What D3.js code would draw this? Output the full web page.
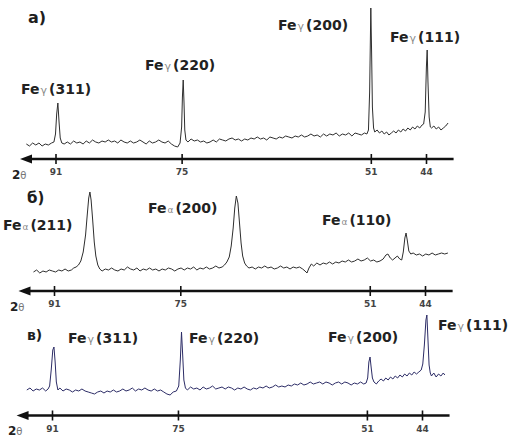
<!DOCTYPE html>
<html><head><meta charset="utf-8">
<script src="https://cdn.jsdelivr.net/npm/d3@7"></script>
<style>body{margin:0;background:#fff}svg{display:block}</style>
</head><body>
<svg id="chart" width="515" height="438"></svg>
<script>
// ---------- DATA ----------
const tickValues = [91, 75, 51, 44];
const tickLabels = ["91", "75", "51", "44"];
const axisExtent = [95.5, 40.5];           // 2θ span of the arrow axis
const panelLetters = ["а)", "б)", "в)"];

// [2θ, intensity (arb.)]
const scanA = [[94.7,8],[94.3,6],[93.9,9],[93.5,7],[93.1,9],[92.7,6],[92.3,8],[91.9,7],[91.5,9],[91.2,10],[91.0,18],[90.85,38],[90.7,49],[90.55,30],[90.4,14],[90.2,9],[89.9,8],[89.5,10],[89.1,8],[88.7,11],[88.3,9],[87.9,10],[87.5,8],[87.1,11],[86.7,9],[86.3,12],[85.9,10],[85.5,9],[85.1,11],[84.7,10],[84.3,12],[83.9,10],[83.5,11],[83.1,9],[82.7,12],[82.3,10],[81.9,9],[81.5,11],[81.1,9],[80.7,10],[80.3,12],[79.9,10],[79.5,8],[79.1,11],[78.7,9],[78.3,10],[77.9,12],[77.5,10],[77.1,9],[76.7,11],[76.3,8],[75.9,6],[75.5,5],[75.2,9],[75.0,25],[74.9,55],[74.8,72],[74.7,50],[74.6,22],[74.45,12],[74.2,10],[73.8,13],[73.4,11],[73.0,12],[72.6,10],[72.2,11],[71.8,9],[71.4,10],[71.0,12],[70.6,10],[70.2,13],[69.8,12],[69.4,11],[69.0,13],[68.6,14],[68.2,12],[67.8,13],[67.4,11],[67.0,13],[66.6,12],[66.2,14],[65.8,13],[65.4,15],[65.0,13],[64.6,14],[64.2,12],[63.8,15],[63.4,14],[63.0,13],[62.6,15],[62.2,14],[61.8,16],[61.4,15],[61.0,14],[60.6,16],[60.2,15],[59.8,17],[59.4,15],[59.0,16],[58.6,18],[58.2,16],[57.8,17],[57.4,15],[57.0,18],[56.6,16],[56.2,18],[55.8,17],[55.4,19],[55.0,16],[54.6,18],[54.2,17],[53.8,19],[53.4,16],[53.0,19],[52.6,18],[52.2,17],[51.8,19],[51.5,18],[51.3,22],[51.15,60],[51.0,144],[50.9,100],[50.8,45],[50.65,24],[50.5,20],[50.2,22],[49.9,19],[49.6,21],[49.3,18],[49.0,20],[48.7,17],[48.4,19],[48.1,21],[47.8,19],[47.5,22],[47.2,20],[46.9,23],[46.6,21],[46.3,24],[46.0,22],[45.7,25],[45.4,23],[45.1,26],[44.8,24],[44.5,27],[44.3,28],[44.1,40],[43.95,85],[43.85,102],[43.75,70],[43.6,35],[43.45,25],[43.3,24],[43.0,26],[42.7,23],[42.4,25],[42.1,22],[41.8,24],[41.5,26],[41.2,29]];

const scanB = [[93.6,8],[93.2,10],[92.8,7],[92.4,9],[92.0,8],[91.6,10],[91.2,9],[90.8,8],[90.4,10],[90.0,9],[89.6,11],[89.2,9],[88.8,10],[88.5,12],[88.2,13],[87.9,15],[87.6,19],[87.3,28],[87.0,45],[86.8,64],[86.6,82],[86.45,88],[86.3,80],[86.1,60],[85.9,38],[85.7,24],[85.45,15],[85.2,11],[84.9,9],[84.5,11],[84.1,10],[83.7,12],[83.3,10],[82.9,9],[82.5,11],[82.1,10],[81.7,13],[81.3,11],[80.9,10],[80.5,12],[80.1,9],[79.7,11],[79.3,10],[78.9,12],[78.5,10],[78.1,11],[77.7,9],[77.3,11],[76.9,10],[76.5,12],[76.1,11],[75.7,9],[75.3,11],[74.9,12],[74.5,10],[74.1,12],[73.7,11],[73.3,13],[72.9,10],[72.5,12],[72.1,11],[71.7,13],[71.3,11],[70.9,12],[70.5,14],[70.1,12],[69.7,13],[69.4,15],[69.1,18],[68.8,23],[68.55,34],[68.3,52],[68.1,72],[67.9,84],[67.7,77],[67.5,57],[67.3,37],[67.1,24],[66.85,17],[66.6,14],[66.3,12],[65.9,13],[65.5,11],[65.1,13],[64.7,12],[64.3,14],[63.9,12],[63.5,13],[63.1,11],[62.7,12],[62.3,14],[61.9,12],[61.5,13],[61.1,11],[60.7,13],[60.3,12],[59.9,13],[59.5,11],[59.2,9],[58.95,7],[58.7,12],[58.4,16],[58.1,14],[57.7,17],[57.3,15],[56.9,17],[56.5,16],[56.1,18],[55.7,16],[55.3,18],[54.9,17],[54.5,19],[54.1,18],[53.7,20],[53.3,18],[52.9,19],[52.5,21],[52.1,19],[51.7,20],[51.3,22],[50.9,19],[50.5,20],[50.1,18],[49.7,19],[49.3,21],[48.95,25],[48.7,26],[48.4,22],[48.1,20],[47.8,22],[47.5,24],[47.2,21],[46.95,20],[46.75,28],[46.55,42],[46.4,47],[46.25,40],[46.05,29],[45.8,26],[45.5,27],[45.1,25],[44.7,26],[44.3,24],[43.9,26],[43.5,25],[43.1,27],[42.7,25],[42.3,26],[41.9,27],[41.5,26],[41.1,27]];

const scanC = [[94.2,10],[93.8,12],[93.4,9],[93.0,11],[92.6,10],[92.2,12],[91.8,9],[91.5,11],[91.3,14],[91.1,30],[90.9,50],[90.75,53],[90.6,38],[90.45,18],[90.25,10],[90.0,12],[89.6,9],[89.2,11],[88.8,10],[88.4,8],[88.0,10],[87.6,9],[87.2,11],[86.8,9],[86.4,8],[86.0,7],[85.6,6],[85.2,8],[84.8,9],[84.4,7],[84.0,9],[83.6,8],[83.2,10],[82.8,8],[82.4,9],[82.0,11],[81.6,9],[81.2,10],[80.8,12],[80.4,9],[80.0,11],[79.6,10],[79.2,12],[78.8,10],[78.4,9],[78.0,11],[77.6,9],[77.2,10],[76.8,8],[76.4,6],[76.0,5],[75.6,8],[75.2,9],[74.9,14],[74.7,40],[74.55,68],[74.4,45],[74.25,20],[74.05,12],[73.8,10],[73.4,13],[73.0,11],[72.6,12],[72.2,10],[71.8,13],[71.4,11],[71.0,12],[70.6,14],[70.2,11],[69.8,12],[69.4,13],[69.0,11],[68.6,13],[68.2,12],[67.8,10],[67.4,12],[67.0,11],[66.6,13],[66.2,11],[65.8,10],[65.4,12],[65.0,11],[64.6,13],[64.2,12],[63.8,14],[63.4,12],[63.0,13],[62.6,15],[62.2,13],[61.8,14],[61.4,13],[61.0,15],[60.6,14],[60.2,16],[59.8,15],[59.4,17],[59.0,15],[58.6,16],[58.2,18],[57.8,16],[57.4,17],[57.0,18],[56.6,16],[56.2,18],[55.8,17],[55.4,15],[55.0,17],[54.6,18],[54.2,16],[53.8,18],[53.4,17],[53.0,15],[52.6,17],[52.2,16],[51.8,18],[51.4,16],[51.1,17],[50.9,22],[50.75,38],[50.6,43],[50.45,32],[50.3,22],[50.1,18],[49.8,16],[49.5,19],[49.2,21],[48.9,19],[48.6,22],[48.3,20],[48.0,23],[47.7,21],[47.4,24],[47.1,22],[46.8,25],[46.5,23],[46.2,26],[45.9,24],[45.6,27],[45.3,25],[45.0,28],[44.7,26],[44.4,28],[44.1,30],[43.9,36],[43.7,55],[43.5,80],[43.38,85],[43.25,62],[43.1,35],[42.95,27],[42.8,24],[42.5,27],[42.2,23],[41.9,26],[41.6,24],[41.3,27],[41.1,25]];

const peaksA = [["γ","(311)"],["γ","(220)"],["γ","(200)"],["γ","(111)"]];
const peaksB = [["α","(211)"],["α","(200)"],["α","(110)"]];
const peaksC = [["γ","(311)"],["γ","(220)"],["γ","(200)"],["γ","(111)"]];

// ---------- LAYOUT ----------
const panels = [
  {scan: scanA, peaks: peaksA, x91: 55.5, x44: 426, base: 152, axisY: 159, color: "#2e2e2e",
   letterPos: [28, 23, 16], twoPos: [12, 179],
   labelPos: [[21, 94], [145, 70], [278, 30], [390, 42]], sub: 11},
  {scan: scanB, peaks: peaksB, x91: 54, x44: 425, base: 280, axisY: 291, color: "#2e2e2e",
   letterPos: [27, 203, 15], twoPos: [10, 311],
   labelPos: [[3, 230], [148, 213], [322, 225]], sub: 9},
  {scan: scanC, peaks: peaksC, x91: 52, x44: 422, base: 400, axisY: 415.5, color: "#2c2c66",
   letterPos: [27, 340, 14], twoPos: [8, 435],
   labelPos: [[68, 343], [189, 343], [328, 342], [438, 330]], sub: 11}
];

const FONT = "'DejaVu Sans', 'Liberation Sans', sans-serif";
const svg = d3.select("#chart");
svg.append("rect").attr("width", 515).attr("height", 438).attr("fill", "#fff");

panels.forEach((p, pi) => {
  const x = d3.scaleLinear().domain([91, 44]).range([p.x91, p.x44]);
  const y = d3.scaleLinear().domain([0, 150]).range([p.base, p.base - 150]);
  const g = svg.append("g");

  // spectrum
  g.append("path").datum(p.scan)
    .attr("d", d3.line().x(d => x(d[0])).y(d => y(d[1])))
    .attr("fill", "none").attr("stroke", p.color).attr("stroke-width", 1)
    .attr("stroke-linejoin", "round");

  // axis
  const ax = g.append("g").attr("transform", `translate(0,${p.axisY})`)
    .call(d3.axisBottom(x).tickValues(tickValues)
      .tickFormat((d, i) => tickLabels[i]).tickSize(0).tickPadding(10));
  ax.select(".domain").remove();
  const tip = x(axisExtent[0]);
  ax.insert("line", ":first-child")
    .attr("x1", tip + 8).attr("x2", x(axisExtent[1]))
    .attr("stroke", "#111").attr("stroke-width", 2.6);
  ax.append("path").attr("d", `M${tip},0L${tip + 12},-4.5L${tip + 12},4.5Z`).attr("fill", "#111");
  ax.selectAll(".tick line").attr("y1", -5).attr("y2", 5)
    .attr("stroke", "#111").attr("stroke-width", 1.6);
  ax.selectAll(".tick text").attr("font-family", FONT).attr("font-weight", "bold")
    .attr("font-size", 9).attr("fill", "#444");

  // 2θ label
  const tt = g.append("text").attr("x", p.twoPos[0]).attr("y", p.twoPos[1])
    .attr("font-family", FONT).attr("font-weight", "bold").attr("font-size", 12).attr("fill", "#222");
  tt.append("tspan").text("2");
  tt.append("tspan").attr("font-size", 10).attr("font-weight", "normal").attr("fill", "#777").text("θ");

  // panel letter
  g.append("text").attr("x", p.letterPos[0]).attr("y", p.letterPos[1])
    .attr("font-family", FONT).attr("font-weight", "bold").attr("font-size", p.letterPos[2])
    .attr("fill", "#1e1e1e").text(panelLetters[pi]);

  // peak labels
  p.peaks.forEach((pk, k) => {
    const [lx, ly] = p.labelPos[k];
    const t = g.append("text").attr("x", lx).attr("y", ly)
      .attr("font-family", FONT).attr("font-weight", "bold").attr("font-size", 14).attr("fill", "#222");
    t.append("tspan").text("Fe");
    t.append("tspan").attr("dx", 1).attr("font-size", p.sub).attr("font-weight", "normal")
      .attr("fill", "#8a8a8a").text(pk[0]);
    t.append("tspan").attr("dx", 2).text(pk[1]);
  });
});
</script>
</body></html>
